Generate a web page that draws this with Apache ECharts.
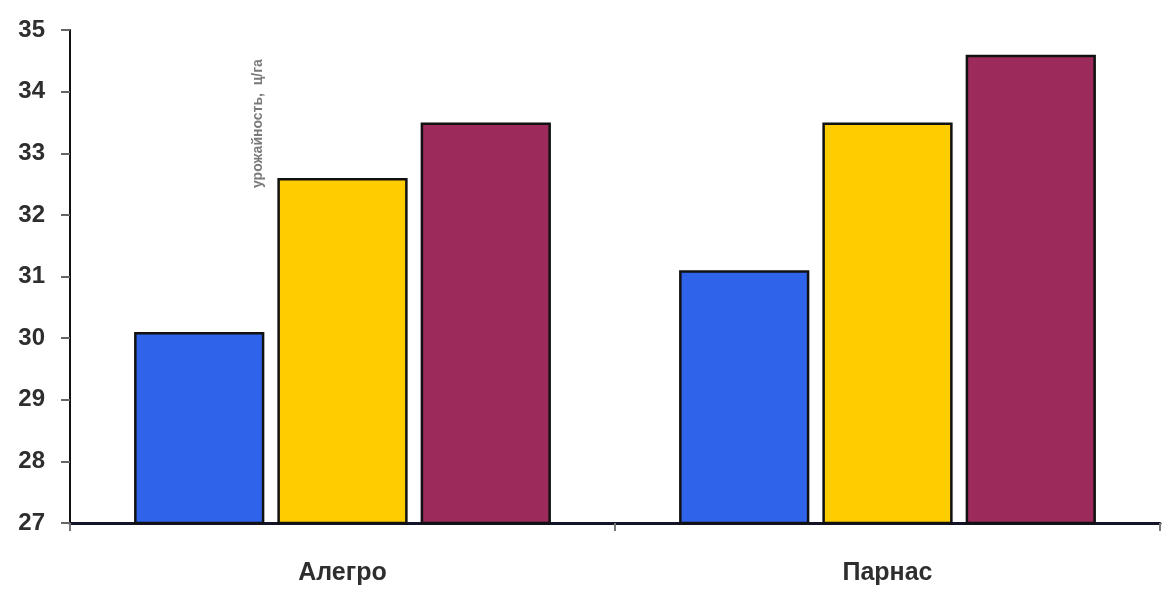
<!DOCTYPE html>
<html>
<head>
<meta charset="utf-8">
<script src="https://cdn.jsdelivr.net/npm/echarts@6/dist/echarts.min.js"></script>
<style>
  html, body { margin: 0; padding: 0; background: #ffffff; }
  #chart { width: 1163px; height: 589px; }
</style>
</head>
<body>
<div id="chart"></div>
<script>
// Varieties on the category axis
const categories = ['Алегро', 'Парнас'];
// Three series of yields per variety
const seriesA = [30.1, 31.1];
const seriesB = [32.6, 33.5];
const seriesC = [33.5, 34.6];
// Value-axis range
const yMin = 27;
const yMax = 35;
const yStep = 1;

const colors = ['#2f63ea', '#ffcc00', '#9c2b5c'];

const chart = echarts.init(document.getElementById('chart'));

function barSeries(data, color) {
  return {
    type: 'bar',
    data: data,
    barWidth: '23.9%',
    barGap: '10%',
    itemStyle: { color: color, borderColor: '#111111', borderWidth: 2.5 }
  };
}

chart.setOption({
  animation: false,
  backgroundColor: '#ffffff',
  grid: { left: 70, right: 3, top: 30, bottom: 66, containLabel: false },
  xAxis: {
    type: 'category',
    data: categories,
    axisLine: { show: true, lineStyle: { color: '#141428', width: 3 } },
    axisTick: { show: true, alignWithLabel: false, length: 8, lineStyle: { color: '#777777', width: 2 } },
    axisLabel: { color: '#2e2e2e', fontSize: 25, fontWeight: 'bold', fontFamily: 'Liberation Sans, Arial, sans-serif', margin: 38 }
  },
  yAxis: {
    type: 'value',
    min: yMin,
    max: yMax,
    interval: yStep,
    splitLine: { show: false },
    axisLine: { show: true, lineStyle: { color: '#111111', width: 2 } },
    axisTick: { show: true, length: 9, lineStyle: { color: '#666666', width: 2 } },
    axisLabel: { color: '#2e2e2e', fontSize: 24, fontWeight: 'bold', fontFamily: 'Liberation Sans, Arial, sans-serif', margin: 25 }
  },
  series: [
    barSeries(seriesA, colors[0]),
    barSeries(seriesB, colors[1]),
    barSeries(seriesC, colors[2])
  ],
  graphic: [
    {
      // vertical unit caption, reading bottom to top
      type: 'text',
      x: 258,
      y: 188,
      rotation: Math.PI / 2,
      style: {
        text: 'урожайность,  ц/га',
        fill: '#7a7a7a',
        font: 'bold 14px Liberation Sans, Arial, sans-serif',
        textAlign: 'left',
        textVerticalAlign: 'middle'
      }
    }
  ]
});
</script>
</body>
</html>
